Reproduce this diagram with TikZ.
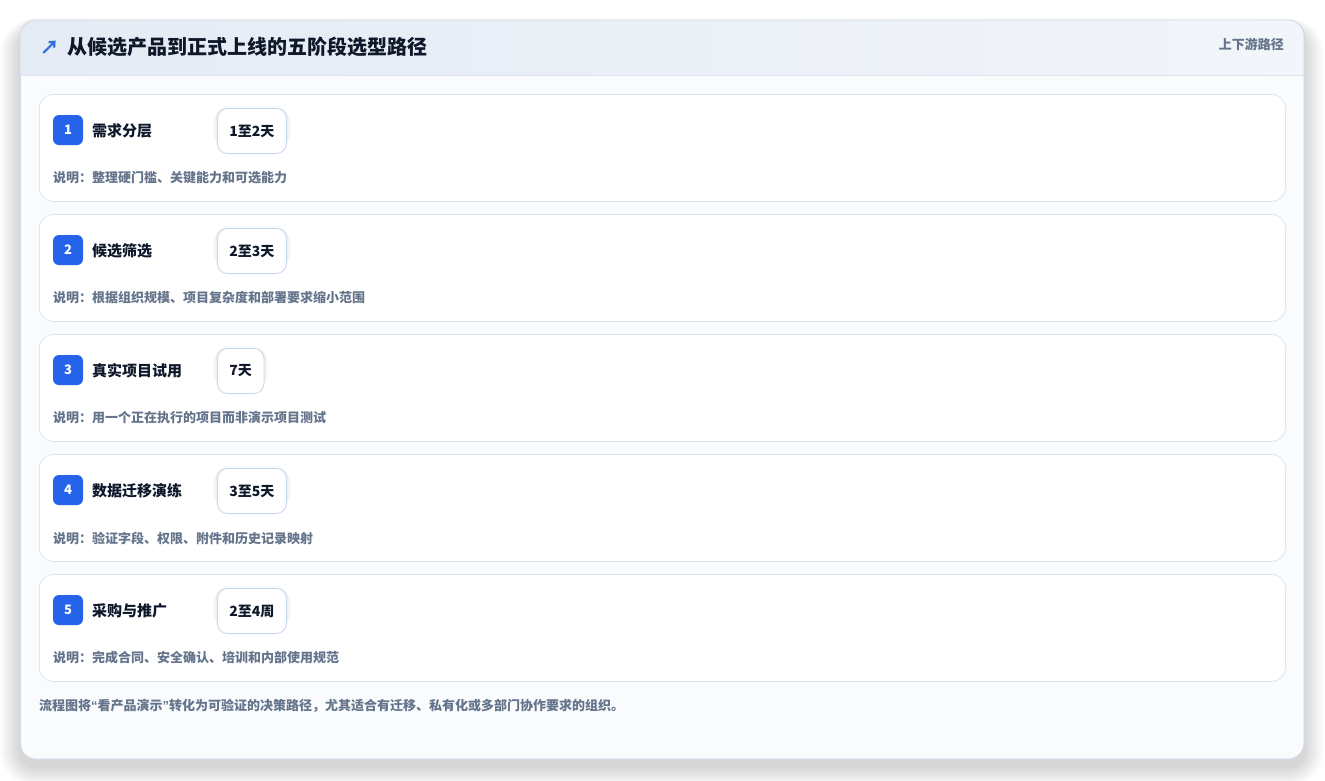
\documentclass[tikz,border=0pt]{standalone}
\usepackage{fontspec}
\setmainfont{Noto Sans CJK SC}
\newfontfamily\latinbold{Liberation Sans}
\definecolor{ink}{HTML}{0F172A}
\definecolor{muted}{HTML}{64748B}
\definecolor{badgeblue}{HTML}{2563EB}
\definecolor{arrowblue}{HTML}{2F6FE0}
\definecolor{outerline}{HTML}{D3DAE4}
\definecolor{cardline}{HTML}{DCE6F2}
\definecolor{pillline}{HTML}{C5D6EE}
\definecolor{headA}{HTML}{E4EBF4}
\definecolor{headB}{HTML}{F2F5F9}
\definecolor{bodybg}{HTML}{F9FBFD}
\tikzset{
  stagecard/.style={draw=cardline, line width=0.8pt, fill=white, rounded corners=14pt, minimum width=1246pt, minimum height=107pt, anchor=north west, inner sep=0pt},
  badge/.style={fill=badgeblue, rounded corners=6pt, minimum width=30pt, minimum height=30pt, inner sep=0pt, text=white, font=\bfseries\fontsize{13}{13}\selectfont},
  stagetitle/.style={anchor=west, inner sep=0pt, text=ink, font=\bfseries\fontsize{15}{15}\selectfont},
  pill/.style={draw=pillline, line width=0.8pt, fill=white, rounded corners=10pt, minimum height=45pt, inner xsep=12pt, anchor=west, text=ink, font=\bfseries\fontsize{14}{14}\selectfont},
  desc/.style={anchor=west, inner sep=0pt, text=muted, font=\bfseries\fontsize{13}{13}\selectfont},
}
\begin{document}
\begin{tikzpicture}[x=1pt,y=-1pt]
\useasboundingbox (0,0) rectangle (1325,780);
\fill[white] (0,0) rectangle (1325,780);
% soft outer shadow
\foreach \s in {1,...,20}{
  \fill[black, opacity=0.0065, rounded corners={16pt+\s pt}] (20-\s,20-0.6*\s+10) rectangle (1304+\s,759+\s+8);
}
% outer card
\node[draw=outerline, line width=0.8pt, fill=bodybg, rounded corners=16pt, minimum width=1284pt, minimum height=739pt, anchor=north west, inner sep=0pt] (outer) at (20,20) {};
\begin{scope}
  \clip[rounded corners=16pt] (20,20) rectangle (1304,759);
  \shade[left color=headA, right color=headB] (20,20) rectangle (1304,75);
  \draw[cardline, line width=0.8pt] (20,75) -- (1304,75);
\end{scope}
\draw[outerline, line width=0.8pt, rounded corners=16pt] (20,20) rectangle (1304,759);
% header
\node[anchor=west, inner sep=0pt, text=arrowblue, font=\bfseries\fontsize{19}{19}\selectfont] (arrow) at (40,48) {↗};
\node[anchor=west, inner sep=0pt, text=ink, font=\bfseries\fontsize{20}{20}\selectfont] (title) at (67,47) {从候选产品到正式上线的五阶段选型路径};
\node[anchor=east, inner sep=0pt, text=muted, font=\bfseries\fontsize{13}{13}\selectfont] (tag) at (1284,44) {上下游路径};
% stages
\foreach \i/\name/\dur/\txt [count=\k from 0] in {
  1/需求分层/1至2天/整理硬门槛、关键能力和可选能力,
  2/候选筛选/2至3天/根据组织规模、项目复杂度和部署要求缩小范围,
  3/真实项目试用/7天/用一个正在执行的项目而非演示项目测试,
  4/数据迁移演练/3至5天/验证字段、权限、附件和历史记录映射,
  5/采购与推广/2至4周/完成合同、安全确认、培训和内部使用规范}{
  \pgfmathsetmacro{\yy}{94+120*\k}
  \node[stagecard] (card\i) at (39,\yy) {};
  \node[badge] (badge\i) at (68,\yy+36) {\i};
  \node[stagetitle] (name\i) at (92,\yy+37) {\name};
  \node[pill, draw=none, fill=none, text=white, opacity=0] (ghost\i) at (217,\yy+37) {\dur};
  \foreach \t in {1,2,3,4}{
    \fill[black, opacity=0.016, rounded corners={10pt+\t pt}] ([xshift=-\t pt, yshift=-\t pt+3pt]ghost\i.north west) rectangle ([xshift=\t pt, yshift=\t pt+3pt]ghost\i.south east);
  }
  \node[pill] (dur\i) at (217,\yy+37) {\dur};
  \node[desc] (desc\i) at (53,\yy+84) {说明：\txt};
}
% footer
\node[anchor=west, inner sep=0pt, text=muted, font=\bfseries\fontsize{13}{13}\selectfont] (foot) at (39,706) {流程图将{\latinbold “}看产品演示{\latinbold ”}转化为可验证的决策路径，尤其适合有迁移、私有化或多部门协作要求的组织。};
\end{tikzpicture}
\end{document}
